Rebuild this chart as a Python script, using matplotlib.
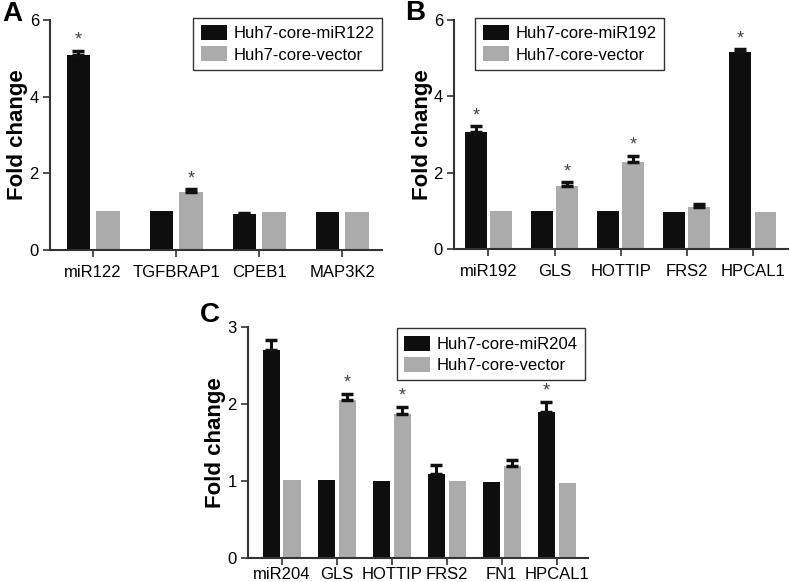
import matplotlib
matplotlib.use("Agg")
import matplotlib.pyplot as plt
import numpy as np

plt.rcParams['font.family'] = ['Liberation Sans', 'DejaVu Sans']

# Panel A
a_genes = ['miR122', 'TGFBRAP1', 'CPEB1', 'MAP3K2']
a_mir = [5.08, 1.02, 0.93, 0.98]
a_mir_err = [0.12, 0.0, 0.03, 0.0]
a_vec = [1.02, 1.52, 1.0, 0.98]
a_vec_err = [0.0, 0.06, 0.0, 0.0]
a_mir_star = [True, False, False, False]
a_vec_star = [False, True, False, False]

# Panel B
b_genes = ['miR192', 'GLS', 'HOTTIP', 'FRS2', 'HPCAL1']
b_mir = [3.07, 1.0, 0.99, 0.97, 5.15]
b_mir_err = [0.14, 0.0, 0.0, 0.0, 0.08]
b_vec = [1.0, 1.65, 2.29, 1.1, 0.97]
b_vec_err = [0.0, 0.1, 0.15, 0.08, 0.0]
b_mir_star = [True, False, False, False, True]
b_vec_star = [False, True, True, False, False]

# Panel C
c_genes = ['miR204', 'GLS', 'HOTTIP', 'FRS2', 'FN1', 'HPCAL1']
c_mir = [2.7, 1.01, 1.0, 1.09, 0.99, 1.89]
c_mir_err = [0.13, 0.0, 0.0, 0.12, 0.0, 0.14]
c_vec = [1.01, 2.05, 1.87, 1.0, 1.19, 0.98]
c_vec_err = [0.0, 0.08, 0.09, 0.0, 0.08, 0.0]
c_mir_star = [False, False, False, False, False, True]
c_vec_star = [False, True, True, False, False, False]

BLACK = '#0e0e0e'
GRAY = '#ababab'
FS = 12


def panel(ax, genes, mir, mir_err, vec, vec_err, mir_star, vec_star,
          mir_name, ymax, yticks, width, off, xlim, leg_anchor, star_gap, xpad):
    x = np.arange(len(genes))
    for xs, vals, errs, col, name, stars in [
            (x - off, mir, mir_err, BLACK, mir_name, mir_star),
            (x + off, vec, vec_err, GRAY, 'Huh7-core-vector', vec_star)]:
        ax.bar(xs, vals, width, color=col, label=name, zorder=2)
        mask = np.array(errs) > 0
        up = np.array(errs)[mask]
        ax.errorbar(xs[mask], np.array(vals)[mask],
                    yerr=[np.zeros_like(up), up],
                    fmt='none', ecolor='#111111', elinewidth=2.2,
                    capsize=4, capthick=2.5, zorder=3)
        for xi, v, e, s in zip(xs, vals, errs, stars):
            if s:
                ax.text(xi, v + e + star_gap, '*', ha='center', va='bottom',
                        fontsize=13, color='#444444', zorder=6)
    ax.set_xlim(*xlim)
    ax.set_ylim(0, ymax)
    ax.set_yticks(yticks)
    ax.set_xticks(x)
    ax.set_xticklabels(genes, fontsize=FS)
    ax.tick_params(axis='y', labelsize=FS, direction='out', length=5,
                   width=1.2, color='#333333', pad=3)
    ax.tick_params(axis='x', direction='out', length=5, width=1.2,
                   color='#333333', pad=xpad)
    for s in ['top', 'right']:
        ax.spines[s].set_visible(False)
    for s in ['left', 'bottom']:
        ax.spines[s].set_color('#333333')
        ax.spines[s].set_linewidth(1.5)
    ax.set_ylabel('Fold change', fontsize=16, fontweight='bold')
    leg = ax.legend(loc='upper right', bbox_to_anchor=leg_anchor,
                    fontsize=FS, frameon=True, fancybox=False, framealpha=1,
                    edgecolor='#333333', handlelength=1.55, handleheight=1.0,
                    borderpad=0.45, labelspacing=0.3, handletextpad=0.4,
                    borderaxespad=0)
    leg.get_frame().set_linewidth(1.0)
    leg.set_zorder(5)


fig = plt.figure(figsize=(7.9, 5.82), dpi=100)

axA = fig.add_axes([50 / 790, 1 - 250 / 582, 332 / 790, 230 / 582])
panel(axA, a_genes, a_mir, a_mir_err, a_vec, a_vec_err, a_mir_star, a_vec_star,
      'Huh7-core-miR122', 6, [0, 2, 4, 6], 0.28, 0.18, (-0.52, 3.48),
      (1.0, 1.01), 0.05, 6)
axA.yaxis.set_label_coords(-0.065, 0.5)

axB = fig.add_axes([454 / 790, 1 - 249 / 582, 334 / 790, 229 / 582])
panel(axB, b_genes, b_mir, b_mir_err, b_vec, b_vec_err, b_mir_star, b_vec_star,
      'Huh7-core-miR192', 6, [0, 2, 4, 6], 0.33, 0.19, (-0.52, 4.53),
      ((664 - 454) / 334, 1.01), 0.05, 6)
axB.yaxis.set_label_coords(-0.062, 0.5)

axC = fig.add_axes([248 / 790, 1 - 558 / 582, 340 / 790, 231 / 582])
panel(axC, c_genes, c_mir, c_mir_err, c_vec, c_vec_err, c_mir_star, c_vec_star,
      'Huh7-core-miR204', 3, [0, 1, 2, 3], 0.31, 0.19, (-0.61, 5.57),
      ((585 - 248) / 340, 0.995), 0.03, 1.5)
axC.yaxis.set_label_coords(-0.066, 0.5)

fig.text(2 / 790, 1 - 1 / 582, 'A', fontsize=20, fontweight='bold', va='top')
fig.text(405 / 790, 1 - 0 / 582, 'B', fontsize=20, fontweight='bold', va='top')
fig.text(200 / 790, 1 - 302 / 582, 'C', fontsize=20, fontweight='bold', va='top')

fig.savefig('out.png', dpi=100)
